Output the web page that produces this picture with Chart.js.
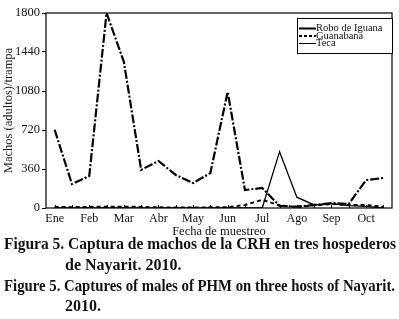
<!DOCTYPE html>
<html>
<head>
<meta charset="utf-8">
<script src="https://cdn.jsdelivr.net/npm/chart.js@4.4.0/dist/chart.umd.min.js"></script>
<style>
  html, body { margin: 0; padding: 0; background: #fff; }
  #wrap { position: relative; width: 399px; height: 319px; overflow: hidden; }
  #chartBox { position: absolute; left: 0; top: 0; width: 399px; height: 240px; }
  .cap { position: absolute; font-family: 'Liberation Serif', 'Times New Roman', serif; font-weight: bold;
         font-size: 16px; color: #111; white-space: nowrap; line-height: 1; transform-origin: 0 0; }
</style>
</head>
<body>
<div id="wrap">
  <div id="chartBox"><canvas id="fig5"></canvas></div>
  <div class="cap" data-w="392" style="left:4px; top:236px;">Figura 5. Captura de machos de la CRH en tres hospederos</div>
  <div class="cap" style="left:65px; top:257px;">de Nayarit. 2010.</div>
  <div class="cap" data-w="391" style="left:4px; top:278px;">Figure 5. Captures of males of PHM on three hosts of Nayarit.</div>
  <div class="cap" style="left:65px; top:298px;">2010.</div>
</div>
<script>
'use strict';

// two samplings per month, labels only on the first one
var sampleLabels = ['Ene', '', 'Feb', '', 'Mar', '', 'Abr', '', 'May', '',
                    'Jun', '', 'Jul', '', 'Ago', '', 'Sep', '', 'Oct', ''];

var roboIguana = [722, 221, 295, 1800, 1350, 352, 434, 305, 231, 323,
                  1072, 166, 185, 20, 12, 28, 46, 37, 258, 277];
var guanabana = [10, 8, 10, 12, 12, 10, 6, 4, 5, 6,
                 6, 28, 76, 24, 8, 25, 37, 28, 28, 10];
var teca = [0, 0, 0, 0, 0, 0, 0, 0, 0, 0,
            0, 0, 0, 520, 100, 28, 40, 22, 15, 0];

var yTicks = [0, 360, 720, 1080, 1440, 1800];

var serif = "'Liberation Serif', 'Times New Roman', serif";
var $fig = document.getElementById('fig5');

// squeeze the long caption lines to the width they have in the figure
document.querySelectorAll('.cap[data-w]').forEach(function (el) {
    var target = parseFloat(el.getAttribute('data-w'));
    var w = el.getBoundingClientRect().width;
    if (w > 0) el.style.transform = 'scaleX(' + (target / w) + ')';
});

// frame around the plot, small inward ticks on x, boxed legend
var framePlugin = {
    id: 'frame',
    afterDraw: function (chart) {
        var ctx = chart.ctx;
        var a = chart.chartArea;
        var xs = chart.scales.x;
        ctx.save();
        ctx.strokeStyle = '#000';
        ctx.lineWidth = 1.2;
        ctx.strokeRect(a.left, a.top, a.right - a.left, a.bottom - a.top);

        ctx.lineWidth = 1;
        for (var i = 0; i < sampleLabels.length; i++) {
            var px = Math.round(xs.getPixelForValue(i)) + 0.5;
            ctx.beginPath();
            ctx.moveTo(px, a.bottom);
            ctx.lineTo(px, a.bottom - 3);
            ctx.stroke();
        }

        // legend
        var lx = 297, ly = 18, lw = 95, lh = 35;
        ctx.fillStyle = '#fff';
        ctx.fillRect(lx, ly, lw, lh);
        ctx.lineWidth = 1;
        ctx.strokeStyle = '#000';
        ctx.strokeRect(lx + 0.5, ly + 0.5, lw, lh);
        ctx.font = '10.5px ' + serif;
        ctx.fillStyle = '#111';
        ctx.textBaseline = 'middle';
        var legendDash = [[], [3, 2], []];
        var legendWidth = [2, 2, 1];
        chart.data.datasets.forEach(function (ds, k) {
            var yy = ly + 10.5 + k * 7.5;
            ctx.beginPath();
            ctx.setLineDash(legendDash[k]);
            ctx.lineWidth = legendWidth[k];
            ctx.moveTo(lx + 2, yy);
            ctx.lineTo(lx + 19, yy);
            ctx.stroke();
            ctx.setLineDash([]);
            ctx.fillText(ds.label, lx + 19, yy);
        });
        ctx.restore();
    },
};

var fig5Chart = new Chart($fig, {
    type: 'line',
    data: {
        labels: sampleLabels,
        datasets: [
            {
                label: 'Robo de Iguana',
                data: roboIguana,
                borderColor: '#000',
                borderWidth: 2.2,
                borderDash: [9, 2, 2, 2],
                pointRadius: 0,
                tension: 0,
            },
            {
                label: 'Guanabana',
                data: guanabana,
                borderColor: '#000',
                borderWidth: 2,
                borderDash: [4, 3],
                pointRadius: 0,
                tension: 0,
            },
            {
                label: 'Teca',
                data: teca,
                borderColor: '#000',
                borderWidth: 1.3,
                pointRadius: 0,
                tension: 0,
            },
        ],
    },
    options: {
        responsive: true,
        maintainAspectRatio: false,
        animation: false,
        layout: {
            padding: { top: 13, right: 7, left: 0, bottom: 0 },
        },
        scales: {
            x: {
                type: 'category',
                offset: true,
                grid: { display: false, drawTicks: false },
                border: { display: false },
                ticks: {
                    color: '#111',
                    font: { family: serif, size: 12 },
                    autoSkip: false,
                    maxRotation: 0,
                    minRotation: 0,
                    padding: 4,
                },
                title: {
                    display: true,
                    text: 'Fecha de muestreo',
                    color: '#111',
                    font: { family: serif, size: 12.5 },
                    padding: { top: 0, bottom: 1 },
                },
                afterFit: function (scale) {
                    scale.height = 32;
                },
            },
            y: {
                min: 0,
                max: 1800,
                afterBuildTicks: function (scale) {
                    scale.ticks = yTicks.map(function (v) { return { value: v }; });
                },
                grid: { drawOnChartArea: false, tickLength: 4, color: '#000' },
                border: { display: false },
                ticks: {
                    color: '#111',
                    font: { family: serif, size: 12.5 },
                    padding: 2,
                    callback: function (value) {
                        return String(value);
                    },
                },
                title: {
                    display: true,
                    text: 'Machos (adultos)/trampa',
                    color: '#222',
                    font: { family: serif, size: 12.5 },
                    padding: { top: 1, bottom: 0 },
                },
                afterFit: function (scale) {
                    scale.width = 46;
                },
            },
        },
        plugins: {
            legend: { display: false },
            tooltip: { enabled: false },
        },
    },
    plugins: [framePlugin],
});
</script>
</body>
</html>
